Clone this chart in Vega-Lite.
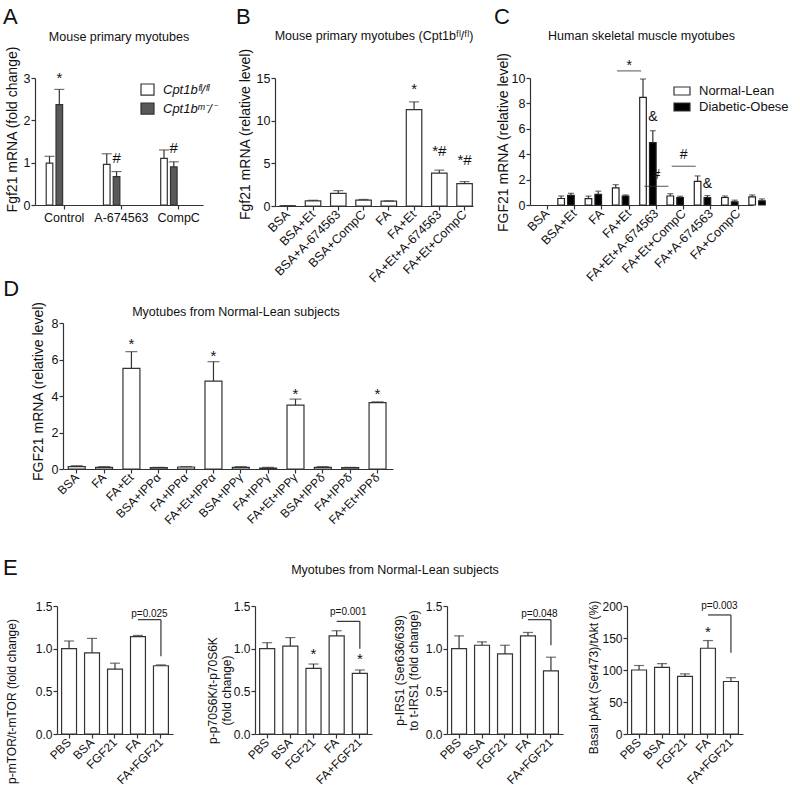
{
  "$schema": "https://vega.github.io/schema/vega-lite/v6.json",
  "padding": {"left": 3, "top": 5, "right": 2, "bottom": 2},
  "config": {
    "font": "Liberation Sans",
    "view": {"stroke": null},
    "axis": {"domainColor": "#333", "domainWidth": 1.2, "tickColor": "#333", "tickWidth": 1.2, "tickSize": 4, "labelColor": "#111", "titleColor": "#111", "labelFont": "Liberation Sans", "titleFont": "Liberation Sans", "titleFontWeight": "normal", "labelFontSize": 12.5, "titleFontSize": 14, "labelPadding": 1, "grid": false, "labelOverlap": false},
    "axisX": {"labelPadding": 2},
    "title": {"font": "Liberation Sans", "fontSize": 12.5, "fontWeight": "normal", "color": "#111"},
    "legend": {"labelFont": "Liberation Sans", "labelColor": "#111", "padding": 0}
  },
  "resolve": {"scale": {"color": "independent"}, "legend": {"color": "independent"}},
  "spacing": 30,
  "vconcat": [
    {
      "spacing": -7,
      "resolve": {"scale": {"color": "independent"}, "legend": {"color": "independent"}},
      "vconcat": [
        {
          "spacing": 20,
          "resolve": {"scale": {"color": "independent"}, "legend": {"color": "independent"}},
          "hconcat": [
            {
              "width": 168, "height": 127,
              "title": {"text": "Mouse primary myotubes", "frame": "group", "offset": -37},
              "data": {"values": [
                {"t": "Control", "g": "Cpt1bᶠˡ/ᶠˡ", "mean": 0.99, "hi": 1.15, "sig": "", "sig_y": 0},
                {"t": "Control", "g": "Cpt1bᵐ⁻/⁻", "mean": 2.37, "hi": 2.73, "sig": "*", "sig_y": 2.88},
                {"t": "A-674563", "g": "Cpt1bᶠˡ/ᶠˡ", "mean": 0.96, "hi": 1.21, "sig": "", "sig_y": 0},
                {"t": "A-674563", "g": "Cpt1bᵐ⁻/⁻", "mean": 0.67, "hi": 0.79, "sig": "#", "sig_y": 0.99},
                {"t": "CompC", "g": "Cpt1bᶠˡ/ᶠˡ", "mean": 1.1, "hi": 1.3, "sig": "", "sig_y": 0},
                {"t": "CompC", "g": "Cpt1bᵐ⁻/⁻", "mean": 0.9, "hi": 1.02, "sig": "#", "sig_y": 1.23}
              ]},
              "layer": [
                {
                  "mark": {"type": "bar", "stroke": "#333", "strokeWidth": 1.2},
                  "encoding": {
                    "x": {"field": "t", "type": "nominal", "scale": {"domain": ["Control", "A-674563", "CompC"], "paddingInner": 0.371, "paddingOuter": 0.153, "align": 0.64}, "axis": {"title": null, "labelAngle": 0, "labelAlign": "center", "labelBaseline": "top"}},
                    "xOffset": {"field": "g", "type": "nominal", "scale": {"domain": ["Cpt1bᶠˡ/ᶠˡ", "Cpt1bᵐ⁻/⁻"], "paddingInner": 0.326}},
                    "y": {"field": "mean", "type": "quantitative", "scale": {"domain": [0, 3], "nice": false}, "axis": {"values": [0, 1, 2, 3], "format": "d", "tickCount": 10, "labelOverlap": false, "title": "Fgf21 mRNA (fold change)", "titlePadding": 4, "titleY": 51}},
                    "color": {"field": "g", "type": "nominal", "scale": {"domain": ["Cpt1bᶠˡ/ᶠˡ", "Cpt1bᵐ⁻/⁻"], "range": ["#ffffff", "#595959"]},
                      "legend": {"title": null, "orient": "none", "legendX": 105, "legendY": 4, "symbolType": "M-1,-0.85H1V0.85H-1Z", "symbolSize": 169, "symbolStrokeColor": "#333", "symbolStrokeWidth": 1.2, "labelFontSize": 13, "labelFontStyle": "italic", "labelOffset": 8, "rowPadding": 2}}
                  }
                },
                {
                  "mark": {"type": "rule", "color": "#333", "strokeWidth": 1.2},
                  "encoding": {
                    "x": {"field": "t", "type": "nominal", "scale": {"domain": ["Control", "A-674563", "CompC"]}},
                    "xOffset": {"field": "g", "type": "nominal", "scale": {"domain": ["Cpt1bᶠˡ/ᶠˡ", "Cpt1bᵐ⁻/⁻"]}},
                    "y": {"field": "mean", "type": "quantitative", "scale": {"domain": [0, 3]}},
                    "y2": {"field": "hi"}
                  }
                },
                {
                  "mark": {"type": "tick", "color": "#333", "thickness": 1.2, "size": 10},
                  "encoding": {
                    "x": {"field": "t", "type": "nominal", "scale": {"domain": ["Control", "A-674563", "CompC"]}},
                    "xOffset": {"field": "g", "type": "nominal", "scale": {"domain": ["Cpt1bᶠˡ/ᶠˡ", "Cpt1bᵐ⁻/⁻"]}},
                    "y": {"field": "hi", "type": "quantitative", "scale": {"domain": [0, 3]}}
                  }
                },
                {
                  "transform": [{"filter": "datum.sig != ''"}],
                  "mark": {"type": "text", "fontSize": 15, "baseline": "alphabetic", "color": "#111"},
                  "encoding": {
                    "x": {"field": "t", "type": "nominal", "scale": {"domain": ["Control", "A-674563", "CompC"]}},
                    "xOffset": {"field": "g", "type": "nominal", "scale": {"domain": ["Cpt1bᶠˡ/ᶠˡ", "Cpt1bᵐ⁻/⁻"]}},
                    "y": {"field": "sig_y", "type": "quantitative", "scale": {"domain": [0, 3]}},
                    "text": {"field": "sig"}
                  }
                },
                {
                  "data": {"values": [{"letter": "A"}]},
                  "mark": {"type": "text", "fontSize": 22, "align": "left", "baseline": "alphabetic", "color": "#111"},
                  "encoding": {"x": {"value": -32}, "y": {"value": -54}, "text": {"field": "letter"}}
                }
              ]
            },
            {
              "width": 198, "height": 128,
              "title": {"text": "Mouse primary myotubes (Cpt1bᶠˡ/ᶠˡ)", "frame": "group", "offset": -37},
              "data": {"values": [
                {"t": "BSA", "mean": 0.03, "hi": 0.03, "sig": "", "sig_y": 0},
                {"t": "BSA+Et", "mean": 0.59, "hi": 0.67, "sig": "", "sig_y": 0},
                {"t": "BSA+A-674563", "mean": 1.49, "hi": 1.8, "sig": "", "sig_y": 0},
                {"t": "BSA+CompC", "mean": 0.7, "hi": 0.77, "sig": "", "sig_y": 0},
                {"t": "FA", "mean": 0.57, "hi": 0.6, "sig": "", "sig_y": 0},
                {"t": "FA+Et", "mean": 11.3, "hi": 12.2, "sig": "*", "sig_y": 13.1},
                {"t": "FA+Et+A-674563", "mean": 3.85, "hi": 4.2, "sig": "*#", "sig_y": 5.86},
                {"t": "FA+Et+CompC", "mean": 2.63, "hi": 2.86, "sig": "*#", "sig_y": 4.77}
              ]},
              "layer": [
                {
                  "mark": {"type": "bar", "fill": "#ffffff", "stroke": "#333", "strokeWidth": 1.2},
                  "encoding": {
                    "x": {"field": "t", "type": "nominal", "scale": {"domain": ["BSA", "BSA+Et", "BSA+A-674563", "BSA+CompC", "FA", "FA+Et", "FA+Et+A-674563", "FA+Et+CompC"], "paddingInner": 0.386, "paddingOuter": 0.113, "align": 0.88}, "axis": {"title": null, "labelAngle": -45, "labelAlign": "right", "labelBaseline": "middle"}},
                    "y": {"field": "mean", "type": "quantitative", "scale": {"domain": [0, 15], "nice": false}, "axis": {"values": [0, 5, 10, 15], "format": "d", "tickCount": 10, "labelOverlap": false, "title": "Fgf21 mRNA (relative level)", "titlePadding": 4, "titleY": 56}}
                  }
                },
                {
                  "mark": {"type": "rule", "color": "#333", "strokeWidth": 1.2},
                  "encoding": {
                    "x": {"field": "t", "type": "nominal", "scale": {"domain": ["BSA", "BSA+Et", "BSA+A-674563", "BSA+CompC", "FA", "FA+Et", "FA+Et+A-674563", "FA+Et+CompC"]}},
                    "y": {"field": "mean", "type": "quantitative", "scale": {"domain": [0, 15]}},
                    "y2": {"field": "hi"}
                  }
                },
                {
                  "mark": {"type": "tick", "color": "#333", "thickness": 1.2, "size": 10},
                  "encoding": {
                    "x": {"field": "t", "type": "nominal", "scale": {"domain": ["BSA", "BSA+Et", "BSA+A-674563", "BSA+CompC", "FA", "FA+Et", "FA+Et+A-674563", "FA+Et+CompC"]}},
                    "y": {"field": "hi", "type": "quantitative", "scale": {"domain": [0, 15]}}
                  }
                },
                {
                  "transform": [{"filter": "datum.sig != ''"}],
                  "mark": {"type": "text", "fontSize": 15, "baseline": "alphabetic", "color": "#111"},
                  "encoding": {
                    "x": {"field": "t", "type": "nominal", "scale": {"domain": ["BSA", "BSA+Et", "BSA+A-674563", "BSA+CompC", "FA", "FA+Et", "FA+Et+A-674563", "FA+Et+CompC"]}},
                    "y": {"field": "sig_y", "type": "quantitative", "scale": {"domain": [0, 15]}},
                    "text": {"field": "sig"}
                  }
                },
                {
                  "data": {"values": [{"letter": "B"}]},
                  "mark": {"type": "text", "fontSize": 22, "align": "left", "baseline": "alphabetic", "color": "#111"},
                  "encoding": {"x": {"value": -39}, "y": {"value": -54.3}, "text": {"field": "letter"}}
                }
              ]
            },
            {
              "width": 223, "height": 127,
              "title": {"text": "Human skeletal muscle myotubes", "frame": "group", "offset": -37.2},
              "data": {"values": [
                {"t": "BSA", "g": "Normal-Lean", "mean": 0.51, "hi": 0.71, "sig": "", "sig_y": 0},
                {"t": "BSA", "g": "Diabetic-Obese", "mean": 0.76, "hi": 0.92, "sig": "", "sig_y": 0},
                {"t": "BSA+Et", "g": "Normal-Lean", "mean": 0.5, "hi": 0.7, "sig": "", "sig_y": 0},
                {"t": "BSA+Et", "g": "Diabetic-Obese", "mean": 0.84, "hi": 1.09, "sig": "", "sig_y": 0},
                {"t": "FA", "g": "Normal-Lean", "mean": 1.35, "hi": 1.6, "sig": "", "sig_y": 0},
                {"t": "FA", "g": "Diabetic-Obese", "mean": 0.71, "hi": 0.79, "sig": "", "sig_y": 0},
                {"t": "FA+Et", "g": "Normal-Lean", "mean": 8.47, "hi": 9.92, "sig": "", "sig_y": 0},
                {"t": "FA+Et", "g": "Diabetic-Obese", "mean": 4.91, "hi": 5.85, "sig": "&", "sig_y": 6.64},
                {"t": "FA+Et+A-674563", "g": "Normal-Lean", "mean": 0.71, "hi": 0.89, "sig": "", "sig_y": 0},
                {"t": "FA+Et+A-674563", "g": "Diabetic-Obese", "mean": 0.59, "hi": 0.69, "sig": "", "sig_y": 0},
                {"t": "FA+Et+CompC", "g": "Normal-Lean", "mean": 1.86, "hi": 2.29, "sig": "", "sig_y": 0},
                {"t": "FA+Et+CompC", "g": "Diabetic-Obese", "mean": 0.59, "hi": 0.74, "sig": "&", "sig_y": 1.3},
                {"t": "FA+A-674563", "g": "Normal-Lean", "mean": 0.59, "hi": 0.71, "sig": "", "sig_y": 0},
                {"t": "FA+A-674563", "g": "Diabetic-Obese", "mean": 0.25, "hi": 0.38, "sig": "", "sig_y": 0},
                {"t": "FA+CompC", "g": "Normal-Lean", "mean": 0.64, "hi": 0.79, "sig": "", "sig_y": 0},
                {"t": "FA+CompC", "g": "Diabetic-Obese", "mean": 0.33, "hi": 0.48, "sig": "", "sig_y": 0}
              ]},
              "layer": [
                {
                  "mark": {"type": "bar", "stroke": "#222", "strokeWidth": 1.2},
                  "encoding": {
                    "x": {"field": "t", "type": "nominal", "scale": {"domain": ["BSA", "BSA+Et", "FA", "FA+Et", "FA+Et+A-674563", "FA+Et+CompC", "FA+A-674563", "FA+CompC"], "paddingInner": 0.34, "paddingOuter": 0.256, "align": 0.59}, "axis": {"title": null, "labelAngle": -45, "labelAlign": "right", "labelBaseline": "middle"}},
                    "xOffset": {"field": "g", "type": "nominal", "scale": {"domain": ["Normal-Lean", "Diabetic-Obese"], "paddingInner": 0.2}},
                    "y": {"field": "mean", "type": "quantitative", "scale": {"domain": [0, 10], "nice": false}, "axis": {"values": [0, 2, 4, 6, 8, 10], "format": "d", "tickCount": 10, "labelOverlap": false, "title": "FGF21 mRNA (relative level)", "titlePadding": 1, "titleY": 64}},
                    "color": {"field": "g", "type": "nominal", "scale": {"domain": ["Normal-Lean", "Diabetic-Obese"], "range": ["#ffffff", "#000000"]},
                      "legend": {"title": null, "orient": "none", "legendX": 143, "legendY": 4, "symbolType": "M-1,-0.5H1V0.5H-1Z", "symbolSize": 256, "symbolStrokeColor": "#333", "symbolStrokeWidth": 1.2, "labelFontSize": 13, "labelOffset": 8, "rowPadding": 0}}
                  }
                },
                {
                  "mark": {"type": "rule", "color": "#333", "strokeWidth": 1.2},
                  "encoding": {
                    "x": {"field": "t", "type": "nominal", "scale": {"domain": ["BSA", "BSA+Et", "FA", "FA+Et", "FA+Et+A-674563", "FA+Et+CompC", "FA+A-674563", "FA+CompC"]}},
                    "xOffset": {"field": "g", "type": "nominal", "scale": {"domain": ["Normal-Lean", "Diabetic-Obese"]}},
                    "y": {"field": "mean", "type": "quantitative", "scale": {"domain": [0, 10]}},
                    "y2": {"field": "hi"}
                  }
                },
                {
                  "mark": {"type": "tick", "color": "#333", "thickness": 1.2, "size": 6},
                  "encoding": {
                    "x": {"field": "t", "type": "nominal", "scale": {"domain": ["BSA", "BSA+Et", "FA", "FA+Et", "FA+Et+A-674563", "FA+Et+CompC", "FA+A-674563", "FA+CompC"]}},
                    "xOffset": {"field": "g", "type": "nominal", "scale": {"domain": ["Normal-Lean", "Diabetic-Obese"]}},
                    "y": {"field": "hi", "type": "quantitative", "scale": {"domain": [0, 10]}}
                  }
                },
                {
                  "transform": [{"filter": "datum.sig != ''"}],
                  "mark": {"type": "text", "fontSize": 14, "baseline": "alphabetic", "color": "#111"},
                  "encoding": {
                    "x": {"field": "t", "type": "nominal", "scale": {"domain": ["BSA", "BSA+Et", "FA", "FA+Et", "FA+Et+A-674563", "FA+Et+CompC", "FA+A-674563", "FA+CompC"]}},
                    "xOffset": {"field": "g", "type": "nominal", "scale": {"domain": ["Normal-Lean", "Diabetic-Obese"]}},
                    "y": {"field": "sig_y", "type": "quantitative", "scale": {"domain": [0, 10]}},
                    "text": {"field": "sig"}
                  }
                },
                {
                  "data": {"values": [
                    {"t": "FA+Et", "line": 10.56, "lab": "*", "lab_y": 10.65},
                    {"t": "FA+Et+A-674563", "line": 1.47, "lab": "#", "lab_y": 2.06},
                    {"t": "FA+Et+CompC", "line": 3.05, "lab": "#", "lab_y": 3.63}
                  ]},
                  "mark": {"type": "tick", "color": "#333", "thickness": 1.2, "size": 24},
                  "encoding": {
                    "x": {"field": "t", "type": "nominal", "scale": {"domain": ["BSA", "BSA+Et", "FA", "FA+Et", "FA+Et+A-674563", "FA+Et+CompC", "FA+A-674563", "FA+CompC"]}},
                    "y": {"field": "line", "type": "quantitative", "scale": {"domain": [0, 10]}}
                  }
                },
                {
                  "data": {"values": [
                    {"t": "FA+Et", "line": 10.56, "lab": "*", "lab_y": 10.65},
                    {"t": "FA+Et+A-674563", "line": 1.47, "lab": "#", "lab_y": 2.06},
                    {"t": "FA+Et+CompC", "line": 3.05, "lab": "#", "lab_y": 3.63}
                  ]},
                  "mark": {"type": "text", "fontSize": 14, "baseline": "alphabetic", "color": "#111"},
                  "encoding": {
                    "x": {"field": "t", "type": "nominal", "scale": {"domain": ["BSA", "BSA+Et", "FA", "FA+Et", "FA+Et+A-674563", "FA+Et+CompC", "FA+A-674563", "FA+CompC"]}},
                    "y": {"field": "lab_y", "type": "quantitative", "scale": {"domain": [0, 10]}},
                    "text": {"field": "lab"}
                  }
                },
                {
                  "data": {"values": [{"letter": "C"}]},
                  "mark": {"type": "text", "fontSize": 22, "align": "left", "baseline": "alphabetic", "color": "#111"},
                  "encoding": {"x": {"value": -36}, "y": {"value": -54.3}, "text": {"field": "letter"}}
                }
              ]
            }
          ]
        },
        {
          "bounds": "flush",
          "spacing": 0,
          "hconcat": [
            {
              "width": 27.75, "height": 146,
              "data": {"values": [{"s": " "}]},
              "mark": {"type": "text", "opacity": 0},
              "encoding": {"text": {"field": "s"}}
            },
            {
              "width": 330, "height": 146,
              "title": {"text": "Myotubes from Normal-Lean subjects", "frame": "group", "offset": -40.6, "dx": 8},
              "data": {"values": [
                {"t": "BSA", "mean": 0.13, "hi": 0.18, "sig": "", "sig_y": 0},
                {"t": "FA", "mean": 0.09, "hi": 0.13, "sig": "", "sig_y": 0},
                {"t": "FA+Et", "mean": 5.51, "hi": 6.43, "sig": "*", "sig_y": 6.6},
                {"t": "BSA+IPPα", "mean": 0.07, "hi": 0.09, "sig": "", "sig_y": 0},
                {"t": "FA+IPPα", "mean": 0.11, "hi": 0.13, "sig": "", "sig_y": 0},
                {"t": "FA+Et+IPPα", "mean": 4.82, "hi": 5.88, "sig": "*", "sig_y": 5.92},
                {"t": "BSA+IPPγ", "mean": 0.09, "hi": 0.13, "sig": "", "sig_y": 0},
                {"t": "FA+IPPγ", "mean": 0.05, "hi": 0.09, "sig": "", "sig_y": 0},
                {"t": "FA+Et+IPPγ", "mean": 3.5, "hi": 3.83, "sig": "*", "sig_y": 3.86},
                {"t": "BSA+IPPδ", "mean": 0.09, "hi": 0.13, "sig": "", "sig_y": 0},
                {"t": "FA+IPPδ", "mean": 0.07, "hi": 0.09, "sig": "", "sig_y": 0},
                {"t": "FA+Et+IPPδ", "mean": 3.64, "hi": 3.68, "sig": "*", "sig_y": 3.86}
              ]},
              "layer": [
                {
                  "mark": {"type": "bar", "fill": "#ffffff", "stroke": "#333", "strokeWidth": 1.2},
                  "encoding": {
                    "x": {"field": "t", "type": "nominal", "scale": {"domain": ["BSA", "FA", "FA+Et", "BSA+IPPα", "FA+IPPα", "FA+Et+IPPα", "BSA+IPPγ", "FA+IPPγ", "FA+Et+IPPγ", "BSA+IPPδ", "FA+IPPδ", "FA+Et+IPPδ"], "paddingInner": 0.38, "paddingOuter": 0.224, "align": 0.43}, "axis": {"title": null, "labelAngle": -45, "labelAlign": "right", "labelBaseline": "middle", "labelFontSize": 12}},
                    "y": {"field": "mean", "type": "quantitative", "scale": {"domain": [0, 8], "nice": false}, "axis": {"values": [0, 2, 4, 6, 8], "format": "d", "tickCount": 10, "labelOverlap": false, "title": "FGF21 mRNA (relative level)", "titlePadding": 6, "titleY": 68}}
                  }
                },
                {
                  "mark": {"type": "rule", "color": "#333", "strokeWidth": 1.2},
                  "encoding": {
                    "x": {"field": "t", "type": "nominal", "scale": {"domain": ["BSA", "FA", "FA+Et", "BSA+IPPα", "FA+IPPα", "FA+Et+IPPα", "BSA+IPPγ", "FA+IPPγ", "FA+Et+IPPγ", "BSA+IPPδ", "FA+IPPδ", "FA+Et+IPPδ"]}},
                    "y": {"field": "mean", "type": "quantitative", "scale": {"domain": [0, 8]}},
                    "y2": {"field": "hi"}
                  }
                },
                {
                  "mark": {"type": "tick", "color": "#333", "thickness": 1.2, "size": 12},
                  "encoding": {
                    "x": {"field": "t", "type": "nominal", "scale": {"domain": ["BSA", "FA", "FA+Et", "BSA+IPPα", "FA+IPPα", "FA+Et+IPPα", "BSA+IPPγ", "FA+IPPγ", "FA+Et+IPPγ", "BSA+IPPδ", "FA+IPPδ", "FA+Et+IPPδ"]}},
                    "y": {"field": "hi", "type": "quantitative", "scale": {"domain": [0, 8]}}
                  }
                },
                {
                  "transform": [{"filter": "datum.sig != ''"}],
                  "mark": {"type": "text", "fontSize": 15, "baseline": "alphabetic", "color": "#111"},
                  "encoding": {
                    "x": {"field": "t", "type": "nominal", "scale": {"domain": ["BSA", "FA", "FA+Et", "BSA+IPPα", "FA+IPPα", "FA+Et+IPPα", "BSA+IPPγ", "FA+IPPγ", "FA+Et+IPPγ", "BSA+IPPδ", "FA+IPPδ", "FA+Et+IPPδ"]}},
                    "y": {"field": "sig_y", "type": "quantitative", "scale": {"domain": [0, 8]}},
                    "text": {"field": "sig"}
                  }
                },
                {
                  "data": {"values": [{"letter": "D"}]},
                  "mark": {"type": "text", "fontSize": 22, "align": "left", "baseline": "alphabetic", "color": "#111"},
                  "encoding": {"x": {"value": -59.75}, "y": {"value": -27}, "text": {"field": "letter"}}
                }
              ]
            }
          ]
        }
      ]
    },
    {
      "title": {"text": "Myotubes from Normal-Lean subjects", "anchor": "middle", "frame": "bounds", "offset": -19.6, "dx": 22},
      "bounds": "flush",
      "spacing": 0,
      "hconcat": [
        {
          "width": 22, "height": 128,
          "data": {"values": [{"s": " "}]},
          "mark": {"type": "text", "opacity": 0},
          "encoding": {"text": {"field": "s"}}
        },
        {
          "width": 116, "height": 128,
          "data": {"values": [
            {"t": "PBS", "mean": 1.0, "hi": 1.09, "sig": "", "sig_y": 0},
            {"t": "BSA", "mean": 0.95, "hi": 1.12, "sig": "", "sig_y": 0},
            {"t": "FGF21", "mean": 0.76, "hi": 0.83, "sig": "", "sig_y": 0},
            {"t": "FA", "mean": 1.14, "hi": 1.155, "sig": "", "sig_y": 0},
            {"t": "FA+FGF21", "mean": 0.8, "hi": 0.81, "sig": "", "sig_y": 0}
          ]},
          "layer": [
            {
              "mark": {"type": "bar", "fill": "#ffffff", "stroke": "#333", "strokeWidth": 1.2},
              "encoding": {
                "x": {"field": "t", "type": "nominal", "scale": {"domain": ["PBS", "BSA", "FGF21", "FA", "FA+FGF21"], "paddingInner": 0.35, "paddingOuter": 0.2}, "axis": {"title": null, "labelAngle": -45, "labelAlign": "right", "labelBaseline": "middle", "labelFontSize": 12}},
                "y": {"field": "mean", "type": "quantitative", "scale": {"domain": [0, 1.5], "nice": false}, "axis": {"values": [0, 0.5, 1, 1.5], "tickCount": 10, "labelOverlap": false, "format": ".1f", "labelFontSize": 12, "title": "p-mTOR/t-mTOR (fold change)", "titleFontSize": 12, "titlePadding": 17, "titleY": 95}}
              }
            },
            {
              "mark": {"type": "rule", "color": "#333", "strokeWidth": 1.2},
              "encoding": {
                "x": {"field": "t", "type": "nominal", "scale": {"domain": ["PBS", "BSA", "FGF21", "FA", "FA+FGF21"]}},
                "y": {"field": "mean", "type": "quantitative", "scale": {"domain": [0, 1.5]}},
                "y2": {"field": "hi"}
              }
            },
            {
              "mark": {"type": "tick", "color": "#333", "thickness": 1.2, "size": 10},
              "encoding": {
                "x": {"field": "t", "type": "nominal", "scale": {"domain": ["PBS", "BSA", "FGF21", "FA", "FA+FGF21"]}},
                "y": {"field": "hi", "type": "quantitative", "scale": {"domain": [0, 1.5]}}
              }
            },
            {
              "data": {"values": [{"a": "FA", "b": "FA+FGF21", "top": 1.34, "end": 0.91, "py": 1.37, "p": "p=0.025"}]},
              "mark": {"type": "rule", "color": "#333", "strokeWidth": 1.2},
              "encoding": {
                "x": {"field": "a", "type": "nominal", "scale": {"domain": ["PBS", "BSA", "FGF21", "FA", "FA+FGF21"]}},
                "x2": {"field": "b"},
                "y": {"field": "top", "type": "quantitative", "scale": {"domain": [0, 1.5]}}
              }
            },
            {
              "data": {"values": [{"a": "FA", "b": "FA+FGF21", "top": 1.34, "end": 0.91, "py": 1.37, "p": "p=0.025"}]},
              "mark": {"type": "rule", "color": "#333", "strokeWidth": 1.2},
              "encoding": {
                "x": {"field": "b", "type": "nominal", "scale": {"domain": ["PBS", "BSA", "FGF21", "FA", "FA+FGF21"]}},
                "y": {"field": "top", "type": "quantitative", "scale": {"domain": [0, 1.5]}},
                "y2": {"field": "end"}
              }
            },
            {
              "data": {"values": [{"a": "FA", "b": "FA+FGF21", "top": 1.34, "end": 0.91, "py": 1.37, "p": "p=0.025"}]},
              "mark": {"type": "text", "fontSize": 10, "font": "Liberation Sans Narrow, Liberation Sans", "baseline": "alphabetic", "color": "#111"},
              "encoding": {
                "x": {"field": "a", "type": "nominal", "bandPosition": 1.27, "scale": {"domain": ["PBS", "BSA", "FGF21", "FA", "FA+FGF21"]}},
                "y": {"field": "py", "type": "quantitative", "scale": {"domain": [0, 1.5]}},
                "text": {"field": "p"}
              }
            },
            {
              "data": {"values": [{"letter": "E"}]},
              "mark": {"type": "text", "fontSize": 22, "align": "left", "baseline": "alphabetic", "color": "#111"},
              "encoding": {"x": {"value": -54}, "y": {"value": -31}, "text": {"field": "letter"}}
            }
          ]
        },
        {
          "width": 82, "height": 128,
          "data": {"values": [{"s": " "}]},
          "mark": {"type": "text", "opacity": 0},
          "encoding": {"text": {"field": "s"}}
        },
        {
          "width": 117, "height": 128,
          "data": {"values": [
            {"t": "PBS", "mean": 1.0, "hi": 1.07, "sig": "", "sig_y": 0},
            {"t": "BSA", "mean": 1.03, "hi": 1.13, "sig": "", "sig_y": 0},
            {"t": "FGF21", "mean": 0.77, "hi": 0.82, "sig": "*", "sig_y": 0.88},
            {"t": "FA", "mean": 1.15, "hi": 1.21, "sig": "", "sig_y": 0},
            {"t": "FA+FGF21", "mean": 0.71, "hi": 0.75, "sig": "*", "sig_y": 0.82}
          ]},
          "layer": [
            {
              "mark": {"type": "bar", "fill": "#ffffff", "stroke": "#333", "strokeWidth": 1.2},
              "encoding": {
                "x": {"field": "t", "type": "nominal", "scale": {"domain": ["PBS", "BSA", "FGF21", "FA", "FA+FGF21"], "paddingInner": 0.35, "paddingOuter": 0.2}, "axis": {"title": null, "labelAngle": -45, "labelAlign": "right", "labelBaseline": "middle", "labelFontSize": 12}},
                "y": {"field": "mean", "type": "quantitative", "scale": {"domain": [0, 1.5], "nice": false}, "axis": {"values": [0, 0.5, 1, 1.5], "tickCount": 10, "labelOverlap": false, "format": ".1f", "labelFontSize": 12, "title": ["p-p70S6K/t-p70S6K", "(fold change)"], "titleFontSize": 12, "titlePadding": 0, "titleY": 84}}
              }
            },
            {
              "mark": {"type": "rule", "color": "#333", "strokeWidth": 1.2},
              "encoding": {
                "x": {"field": "t", "type": "nominal", "scale": {"domain": ["PBS", "BSA", "FGF21", "FA", "FA+FGF21"]}},
                "y": {"field": "mean", "type": "quantitative", "scale": {"domain": [0, 1.5]}},
                "y2": {"field": "hi"}
              }
            },
            {
              "mark": {"type": "tick", "color": "#333", "thickness": 1.2, "size": 10},
              "encoding": {
                "x": {"field": "t", "type": "nominal", "scale": {"domain": ["PBS", "BSA", "FGF21", "FA", "FA+FGF21"]}},
                "y": {"field": "hi", "type": "quantitative", "scale": {"domain": [0, 1.5]}}
              }
            },
            {
              "transform": [{"filter": "datum.sig != ''"}],
              "mark": {"type": "text", "fontSize": 15, "baseline": "alphabetic", "color": "#111"},
              "encoding": {
                "x": {"field": "t", "type": "nominal", "scale": {"domain": ["PBS", "BSA", "FGF21", "FA", "FA+FGF21"]}},
                "y": {"field": "sig_y", "type": "quantitative", "scale": {"domain": [0, 1.5]}},
                "text": {"field": "sig"}
              }
            },
            {
              "data": {"values": [{"a": "FA", "b": "FA+FGF21", "top": 1.32, "end": 1.0, "py": 1.39, "p": "p=0.001"}]},
              "mark": {"type": "rule", "color": "#333", "strokeWidth": 1.2},
              "encoding": {
                "x": {"field": "a", "type": "nominal", "scale": {"domain": ["PBS", "BSA", "FGF21", "FA", "FA+FGF21"]}},
                "x2": {"field": "b"},
                "y": {"field": "top", "type": "quantitative", "scale": {"domain": [0, 1.5]}}
              }
            },
            {
              "data": {"values": [{"a": "FA", "b": "FA+FGF21", "top": 1.32, "end": 1.0, "py": 1.39, "p": "p=0.001"}]},
              "mark": {"type": "rule", "color": "#333", "strokeWidth": 1.2},
              "encoding": {
                "x": {"field": "b", "type": "nominal", "scale": {"domain": ["PBS", "BSA", "FGF21", "FA", "FA+FGF21"]}},
                "y": {"field": "top", "type": "quantitative", "scale": {"domain": [0, 1.5]}},
                "y2": {"field": "end"}
              }
            },
            {
              "data": {"values": [{"a": "FA", "b": "FA+FGF21", "top": 1.32, "end": 1.0, "py": 1.39, "p": "p=0.001"}]},
              "mark": {"type": "text", "fontSize": 10, "font": "Liberation Sans Narrow, Liberation Sans", "baseline": "alphabetic", "color": "#111"},
              "encoding": {
                "x": {"field": "a", "type": "nominal", "bandPosition": 1.27, "scale": {"domain": ["PBS", "BSA", "FGF21", "FA", "FA+FGF21"]}},
                "y": {"field": "py", "type": "quantitative", "scale": {"domain": [0, 1.5]}},
                "text": {"field": "p"}
              }
            }
          ]
        },
        {
          "width": 75, "height": 128,
          "data": {"values": [{"s": " "}]},
          "mark": {"type": "text", "opacity": 0},
          "encoding": {"text": {"field": "s"}}
        },
        {
          "width": 116, "height": 128,
          "data": {"values": [
            {"t": "PBS", "mean": 1.0, "hi": 1.15, "sig": "", "sig_y": 0},
            {"t": "BSA", "mean": 1.04, "hi": 1.08, "sig": "", "sig_y": 0},
            {"t": "FGF21", "mean": 0.94, "hi": 1.04, "sig": "", "sig_y": 0},
            {"t": "FA", "mean": 1.15, "hi": 1.19, "sig": "", "sig_y": 0},
            {"t": "FA+FGF21", "mean": 0.74, "hi": 0.9, "sig": "", "sig_y": 0}
          ]},
          "layer": [
            {
              "mark": {"type": "bar", "fill": "#ffffff", "stroke": "#333", "strokeWidth": 1.2},
              "encoding": {
                "x": {"field": "t", "type": "nominal", "scale": {"domain": ["PBS", "BSA", "FGF21", "FA", "FA+FGF21"], "paddingInner": 0.35, "paddingOuter": 0.2}, "axis": {"title": null, "labelAngle": -45, "labelAlign": "right", "labelBaseline": "middle", "labelFontSize": 12}},
                "y": {"field": "mean", "type": "quantitative", "scale": {"domain": [0, 1.5], "nice": false}, "axis": {"values": [0, 0.5, 1, 1.5], "tickCount": 10, "labelOverlap": false, "format": ".1f", "labelFontSize": 12, "title": ["p-IRS1 (Ser636/639)", "to t-IRS1 (fold change)"], "titleFontSize": 12, "titlePadding": 5, "titleY": 64}}
              }
            },
            {
              "mark": {"type": "rule", "color": "#333", "strokeWidth": 1.2},
              "encoding": {
                "x": {"field": "t", "type": "nominal", "scale": {"domain": ["PBS", "BSA", "FGF21", "FA", "FA+FGF21"]}},
                "y": {"field": "mean", "type": "quantitative", "scale": {"domain": [0, 1.5]}},
                "y2": {"field": "hi"}
              }
            },
            {
              "mark": {"type": "tick", "color": "#333", "thickness": 1.2, "size": 10},
              "encoding": {
                "x": {"field": "t", "type": "nominal", "scale": {"domain": ["PBS", "BSA", "FGF21", "FA", "FA+FGF21"]}},
                "y": {"field": "hi", "type": "quantitative", "scale": {"domain": [0, 1.5]}}
              }
            },
            {
              "data": {"values": [{"a": "FA", "b": "FA+FGF21", "top": 1.34, "end": 1.04, "py": 1.37, "p": "p=0.048"}]},
              "mark": {"type": "rule", "color": "#333", "strokeWidth": 1.2},
              "encoding": {
                "x": {"field": "a", "type": "nominal", "scale": {"domain": ["PBS", "BSA", "FGF21", "FA", "FA+FGF21"]}},
                "x2": {"field": "b"},
                "y": {"field": "top", "type": "quantitative", "scale": {"domain": [0, 1.5]}}
              }
            },
            {
              "data": {"values": [{"a": "FA", "b": "FA+FGF21", "top": 1.34, "end": 1.04, "py": 1.37, "p": "p=0.048"}]},
              "mark": {"type": "rule", "color": "#333", "strokeWidth": 1.2},
              "encoding": {
                "x": {"field": "b", "type": "nominal", "scale": {"domain": ["PBS", "BSA", "FGF21", "FA", "FA+FGF21"]}},
                "y": {"field": "top", "type": "quantitative", "scale": {"domain": [0, 1.5]}},
                "y2": {"field": "end"}
              }
            },
            {
              "data": {"values": [{"a": "FA", "b": "FA+FGF21", "top": 1.34, "end": 1.04, "py": 1.37, "p": "p=0.048"}]},
              "mark": {"type": "text", "fontSize": 10, "font": "Liberation Sans Narrow, Liberation Sans", "baseline": "alphabetic", "color": "#111"},
              "encoding": {
                "x": {"field": "a", "type": "nominal", "bandPosition": 1.27, "scale": {"domain": ["PBS", "BSA", "FGF21", "FA", "FA+FGF21"]}},
                "y": {"field": "py", "type": "quantitative", "scale": {"domain": [0, 1.5]}},
                "text": {"field": "p"}
              }
            }
          ]
        },
        {
          "width": 64, "height": 128,
          "data": {"values": [{"s": " "}]},
          "mark": {"type": "text", "opacity": 0},
          "encoding": {"text": {"field": "s"}}
        },
        {
          "width": 116, "height": 128,
          "data": {"values": [
            {"t": "PBS", "mean": 100, "hi": 107, "sig": "", "sig_y": 0},
            {"t": "BSA", "mean": 104, "hi": 110, "sig": "", "sig_y": 0},
            {"t": "FGF21", "mean": 90, "hi": 94, "sig": "", "sig_y": 0},
            {"t": "FA", "mean": 134, "hi": 146, "sig": "*", "sig_y": 152},
            {"t": "FA+FGF21", "mean": 82, "hi": 88, "sig": "", "sig_y": 0}
          ]},
          "layer": [
            {
              "mark": {"type": "bar", "fill": "#ffffff", "stroke": "#333", "strokeWidth": 1.2},
              "encoding": {
                "x": {"field": "t", "type": "nominal", "scale": {"domain": ["PBS", "BSA", "FGF21", "FA", "FA+FGF21"], "paddingInner": 0.35, "paddingOuter": 0.2}, "axis": {"title": null, "labelAngle": -45, "labelAlign": "right", "labelBaseline": "middle", "labelFontSize": 12}},
                "y": {"field": "mean", "type": "quantitative", "scale": {"domain": [0, 200], "nice": false}, "axis": {"values": [0, 50, 100, 150, 200], "format": "d", "tickCount": 10, "labelOverlap": false, "labelFontSize": 12, "title": "Basal pAkt (Ser473)/tAkt (%)", "titleFontSize": 12, "titlePadding": 1, "titleY": 71}}
              }
            },
            {
              "mark": {"type": "rule", "color": "#333", "strokeWidth": 1.2},
              "encoding": {
                "x": {"field": "t", "type": "nominal", "scale": {"domain": ["PBS", "BSA", "FGF21", "FA", "FA+FGF21"]}},
                "y": {"field": "mean", "type": "quantitative", "scale": {"domain": [0, 200]}},
                "y2": {"field": "hi"}
              }
            },
            {
              "mark": {"type": "tick", "color": "#333", "thickness": 1.2, "size": 10},
              "encoding": {
                "x": {"field": "t", "type": "nominal", "scale": {"domain": ["PBS", "BSA", "FGF21", "FA", "FA+FGF21"]}},
                "y": {"field": "hi", "type": "quantitative", "scale": {"domain": [0, 200]}}
              }
            },
            {
              "transform": [{"filter": "datum.sig != ''"}],
              "mark": {"type": "text", "fontSize": 15, "baseline": "alphabetic", "color": "#111"},
              "encoding": {
                "x": {"field": "t", "type": "nominal", "scale": {"domain": ["PBS", "BSA", "FGF21", "FA", "FA+FGF21"]}},
                "y": {"field": "sig_y", "type": "quantitative", "scale": {"domain": [0, 200]}},
                "text": {"field": "sig"}
              }
            },
            {
              "data": {"values": [{"a": "FA", "b": "FA+FGF21", "top": 186, "end": 127, "py": 195, "p": "p=0.003"}]},
              "mark": {"type": "rule", "color": "#333", "strokeWidth": 1.2},
              "encoding": {
                "x": {"field": "a", "type": "nominal", "scale": {"domain": ["PBS", "BSA", "FGF21", "FA", "FA+FGF21"]}},
                "x2": {"field": "b"},
                "y": {"field": "top", "type": "quantitative", "scale": {"domain": [0, 200]}}
              }
            },
            {
              "data": {"values": [{"a": "FA", "b": "FA+FGF21", "top": 186, "end": 127, "py": 195, "p": "p=0.003"}]},
              "mark": {"type": "rule", "color": "#333", "strokeWidth": 1.2},
              "encoding": {
                "x": {"field": "b", "type": "nominal", "scale": {"domain": ["PBS", "BSA", "FGF21", "FA", "FA+FGF21"]}},
                "y": {"field": "top", "type": "quantitative", "scale": {"domain": [0, 200]}},
                "y2": {"field": "end"}
              }
            },
            {
              "data": {"values": [{"a": "FA", "b": "FA+FGF21", "top": 186, "end": 127, "py": 195, "p": "p=0.003"}]},
              "mark": {"type": "text", "fontSize": 10, "font": "Liberation Sans Narrow, Liberation Sans", "baseline": "alphabetic", "color": "#111"},
              "encoding": {
                "x": {"field": "a", "type": "nominal", "bandPosition": 1.27, "scale": {"domain": ["PBS", "BSA", "FGF21", "FA", "FA+FGF21"]}},
                "y": {"field": "py", "type": "quantitative", "scale": {"domain": [0, 200]}},
                "text": {"field": "p"}
              }
            }
          ]
        }
      ]
    }
  ]
}
